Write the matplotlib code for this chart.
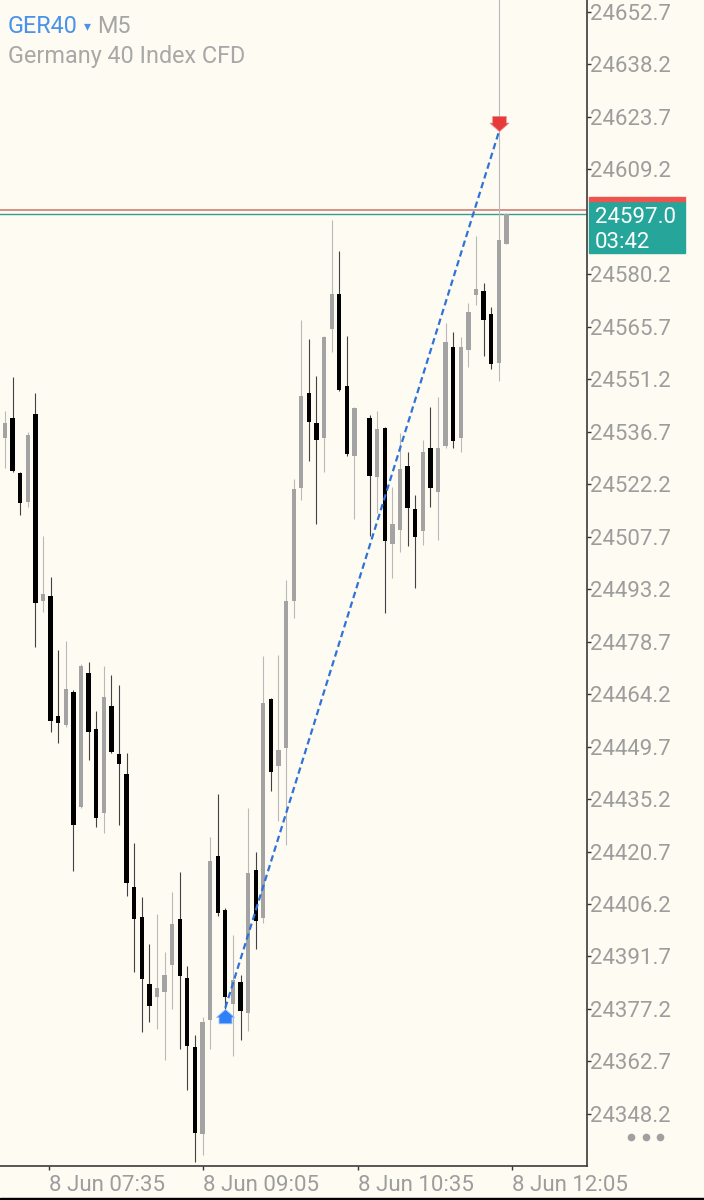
import numpy as np
import matplotlib
matplotlib.use("Agg")
import matplotlib.pyplot as plt
from matplotlib.patches import Rectangle
from matplotlib.lines import Line2D

plt.rcParams['font.family'] = ['Roboto', 'DejaVu Sans']

# GER40 M5 candles (bar 47 is not visible)
opens = [24534.9, 24540.6, 24525.4, 24517.4, 24541.5, 24490.0, 24491.4, 24458.2, 24455.7, 24464.7,
         24433.1, 24470.0, 24454.6, 24431.3, 24461.0, 24447.6, 24442.2, 24411.0, 24402.5, 24384.1,
         24380.5, 24382.0, 24389.4, 24402.0, 24385.7, 24366.6, 24342.6, 24374.2, 24419.5, 24404.6,
         24378.6, 24384.6, 24376.0, 24415.6, 24402.3, 24462.8, 24444.2, 24449.3, 24490.0, 24521.1,
         24547.3, 24539.2, 24535.1, 24565.1, 24574.8, 24549.2, 24530.1, np.nan, 24540.4, 24524.3,
         24537.7, 24505.7, 24509.6, 24527.3, 24515.3, 24509.2, 24532.3, 24520.1, 24532.8, 24560.1,
         24534.9, 24559.3, 24574.6, 24575.6, 24569.1, 24555.8, 24588.7]
highs = [24542.3, 24551.9, 24525.6, 24536.5, 24547.3, 24507.9, 24496.5, 24476.4, 24479.0, 24465.4,
         24472.5, 24473.0, 24459.6, 24472.0, 24469.5, 24466.6, 24448.0, 24423.0, 24408.1, 24395.1,
         24403.5, 24392.9, 24409.6, 24415.0, 24389.1, 24370.0, 24374.9, 24424.7, 24436.6, 24405.0,
         24397.7, 24386.6, 24432.7, 24420.7, 24474.8, 24463.0, 24475.0, 24495.8, 24523.7, 24567.6,
         24562.3, 24552.1, 24563.2, 24595.2, 24586.7, 24563.2, 24543.4, np.nan, 24541.4, 24542.3,
         24538.0, 24521.5, 24536.3, 24531.2, 24519.2, 24534.4, 24543.4, 24546.3, 24566.7, 24564.2,
         24562.8, 24572.2, 24590.8, 24577.8, 24571.1, 24665.0, 24597.2]
lows = [24526.6, 24525.5, 24513.7, 24516.0, 24477.2, 24487.0, 24453.8, 24450.6, 24455.2, 24415.2,
        24432.6, 24446.0, 24427.6, 24425.8, 24447.8, 24428.1, 24408.3, 24387.5, 24370.8, 24373.6,
        24371.6, 24363.1, 24377.1, 24366.1, 24354.8, 24335.0, 24336.9, 24366.1, 24403.0, 24377.0,
        24364.2, 24368.7, 24371.2, 24393.7, 24400.9, 24437.3, 24429.0, 24422.5, 24485.2, 24517.7,
        24528.7, 24511.2, 24525.7, 24558.6, 24548.0, 24530.0, 24512.5, np.nan, 24507.9, 24514.2,
        24486.6, 24496.2, 24503.6, 24505.0, 24493.5, 24505.3, 24515.9, 24506.9, 24532.3, 24532.1,
        24531.2, 24554.5, 24571.7, 24557.5, 24554.0, 24550.8, 24588.7]
closes = [24539.2, 24525.9, 24517.0, 24535.8, 24489.3, 24491.9, 24456.9, 24456.3, 24465.6, 24427.9,
          24472.1, 24453.8, 24429.9, 24463.5, 24448.3, 24444.8, 24412.0, 24402.0, 24385.4, 24377.9,
          24383.0, 24386.6, 24400.7, 24386.4, 24367.0, 24343.0, 24373.6, 24418.1, 24403.7, 24380.5,
          24385.2, 24376.5, 24414.7, 24401.4, 24461.8, 24442.8, 24448.8, 24489.8, 24520.8, 24546.7,
          24539.5, 24534.4, 24563.0, 24574.7, 24548.1, 24530.6, 24543.2, np.nan, 24524.5, 24537.4,
          24506.6, 24511.2, 24526.3, 24515.6, 24507.7, 24531.2, 24521.2, 24532.1, 24561.4, 24534.2,
          24560.1, 24569.8, 24576.2, 24567.7, 24555.4, 24589.6, 24597.0]

ask = 24598.0
bid = 24597.0
countdown = "03:42"

buy_bar, buy_price = 29, 24377.5
sell_bar, sell_price = 65, 24619.5

ytick_vals = [24652.7, 24638.2, 24623.7, 24609.2, 24580.2, 24565.7, 24551.2, 24536.7,
              24522.2, 24507.7, 24493.2, 24478.7, 24464.2, 24449.7, 24435.2, 24420.7,
              24406.2, 24391.7, 24377.2, 24362.7, 24348.2]
xtick_bars = [5.73, 26.06, 46.45, 66.78]
xtick_labels = ['8 Jun 07:35', '8 Jun 09:05', '8 Jun 10:35', '8 Jun 12:05']

W, H = 704, 1200
BG = '#fdfbf2'
GREY_TXT = '#9d9d9d'

fig = plt.figure(figsize=(W / 100, H / 100), dpi=100, facecolor=BG)
ax = fig.add_axes([0, 1 - 1166 / H, 587 / W, 1166 / H])
ax.set_facecolor(BG)

o = np.array(opens)
h = np.array(highs)
l = np.array(lows)
c = np.array(closes)
idx = np.arange(len(o))
ok = ~np.isnan(o)
up = ok & (c >= o)
down = ok & (c < o)

for mask, body_col, wick_col in [(up, '#a3a3a3', '#b9b9b9'), (down, '#000000', '#424242')]:
    ax.vlines(idx[mask], l[mask], h[mask], color=wick_col, lw=0.8, zorder=2)
    ax.bar(idx[mask], np.maximum(np.abs(c - o)[mask], 0.5), bottom=np.minimum(o, c)[mask],
           width=0.57, color=body_col, linewidth=0, zorder=3)

# bid / ask lines
ax.axhline(ask, color='#c9776f', lw=1.1, zorder=1)
ax.axhline(bid, color='#3a9d8f', lw=1.0, zorder=1)

# trade: buy -> sell
ax.plot([buy_bar, sell_bar], [buy_price, sell_price], color='#2f72d8', lw=1.6,
        ls=(0, (2.9, 1.7)), zorder=4)
up_arrow = [(0, -0.1), (1, -1.0), (0.72, -1.0), (0.72, -1.7), (-0.72, -1.7), (-0.72, -1.0), (-1, -1.0), (0, -0.1)]
down_arrow = [(x, -y) for x, y in up_arrow]
ax.plot(buy_bar, buy_price, marker=up_arrow, ms=22, color='#2f80f7', mec='#9cc3ff', mew=0.6, zorder=5)
ax.plot(sell_bar, sell_price, marker=down_arrow, ms=23, color='#e53b3b', mec='#f08080', mew=0.5, zorder=5)

ax.set_xlim(-0.658, 76.61)
ax.set_ylim(24333.8, 24656.0)

ax.yaxis.tick_right()
ax.set_yticks(ytick_vals)
ax.set_yticklabels([f'{v:.1f}' for v in ytick_vals])
ax.tick_params(axis='y', labelcolor=GREY_TXT, labelsize=16, length=3, width=1,
               color='#333333', pad=-0.5)
ax.set_xticks(xtick_bars)
ax.set_xticklabels(xtick_labels)
for lab in ax.get_xticklabels():
    lab.set_ha('left')
ax.tick_params(axis='x', labelcolor=GREY_TXT, labelsize=16, length=3, width=1,
               color='#333333', pad=3.5)

for s in ['top', 'left']:
    ax.spines[s].set_visible(False)
for s in ['right', 'bottom']:
    ax.spines[s].set_color('#3a3a3a')
    ax.spines[s].set_linewidth(1.2)

# header
fig.text(8 / W, 1 - 33.3 / H, 'GER40', color='#4a93ea', fontsize=16.8, va='baseline')
fig.text(84 / W, 1 - 30.5 / H, '\u25be', color='#4a93ea', fontsize=10, va='baseline',
         family=['DejaVu Sans'])
fig.text(97 / W, 1 - 33.3 / H, 'M5', color='#a6a6a6', fontsize=16.8, va='baseline')
fig.text(8 / W, 1 - 62.7 / H, 'Germany 40 Index CFD', color='#a8a8a8', fontsize=16.8, va='baseline')

# current price box
fig.add_artist(Rectangle((589 / W, 1 - 252.7 / H), 96 / W, 52 / H, transform=fig.transFigure,
                         color='#26a69a', zorder=5))
fig.add_artist(Rectangle((589 / W, 1 - 200.7 / H), 96 / W, 3.4 / H, transform=fig.transFigure,
                         color='#ef5350', zorder=5))
fig.text(595 / W, 1 - 222.7 / H, f'{bid:.1f}', color='white', fontsize=16, va='baseline', zorder=6)
fig.text(595 / W, 1 - 247.7 / H, countdown, color='white', fontsize=16, va='baseline', zorder=6)

# menu dots and bottom strip
fig.add_artist(Line2D([631 / W, 646 / W, 660 / W], [1 - 1137 / H] * 3, transform=fig.transFigure,
                      marker='o', ms=4.5, ls='none', color='#a0a0a0'))
fig.add_artist(Rectangle((0, 0), 1, 2.5 / H, transform=fig.transFigure, color='black', zorder=5))

fig.savefig('out.png', dpi=100, facecolor=BG)
